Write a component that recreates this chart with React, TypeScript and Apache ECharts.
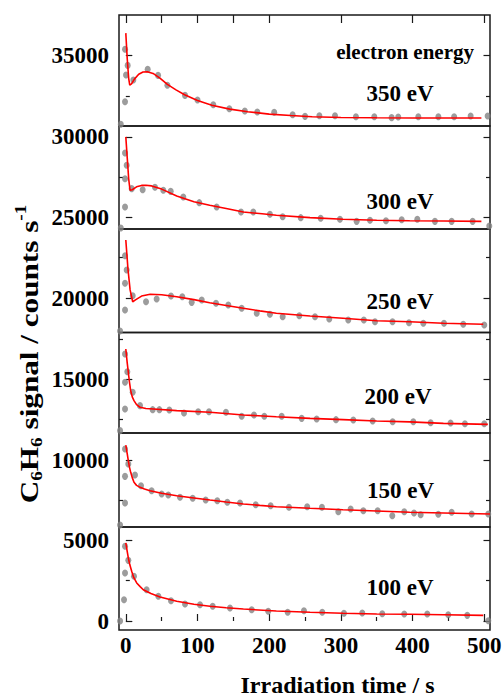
import React, { useEffect, useRef } from 'react';
import * as echarts from 'echarts';

const FONT = 'Liberation Serif';

// ---------------- data ----------------
const energyLabels = ['350 eV', '300 eV', '250 eV', '200 eV', '150 eV', '100 eV'];

const xMajorTicks = [0, 100, 200, 300, 400, 500];
const xMinorTicks = [50, 150, 250, 350, 450];
const xTopTicks = [0, 50, 100, 150, 200, 300, 400, 500];

const points350: number[][] = [
  [-7, 30750], [-1.1, 32150], [-1.1, 35400], [2.6, 34400], [0.3, 33800], [10.5, 33490], [30.5, 34160],
  [45, 33780], [58, 33170], [82.6, 32540], [100, 32250], [122, 31960], [144.4, 31715], [166, 31570],
  [183.4, 31510], [207, 31490], [232.7, 31340], [250, 31240], [270, 31280], [291.8, 31280], [321, 31220],
  [346.6, 31220], [370.8, 31160], [380, 31200], [408, 31220], [436, 31220], [458, 31220], [481, 31260],
  [504.7, 31260],
];
const fit350: number[][] = [
  [0, 36400], [2, 34800], [4, 33600], [5.5, 33180], [8, 33250], [12, 33550], [18, 33850], [24, 33990],
  [30, 34010], [38, 33900], [48, 33600], [58, 33220], [70, 32880], [82, 32580], [100, 32220], [120, 31930],
  [145, 31690], [170, 31530], [200, 31380], [230, 31290], [260, 31220], [300, 31170], [350, 31150],
  [400, 31140], [450, 31140], [496, 31140],
];

const points300: number[][] = [
  [-7, 24350], [-1.1, 25650], [-1.1, 29000], [1.2, 28240], [-1.1, 27400], [8.2, 26790], [23.5, 26720],
  [40.7, 26870], [52.3, 26690], [62.6, 26620], [80.2, 26270], [102.5, 25920], [126.7, 25650],
  [160.7, 25340], [177.8, 25340], [201, 25200], [218.8, 25050], [244, 24990], [271.8, 24950],
  [298.7, 24890], [322, 24760], [340.6, 24830], [362.9, 24800], [384.8, 24860], [406.6, 24890],
  [431.2, 24760], [454.5, 24760], [483.8, 24760], [507, 24470],
];
const fit300: number[][] = [
  [0, 30000], [2, 28700], [4, 27400], [5.9, 26690], [9, 26720], [15, 26900], [22, 26990], [28, 27000],
  [36, 26960], [50, 26760], [71, 26330], [95, 25980], [117, 25760], [140, 25560], [164, 25340],
  [190, 25230], [210, 25140], [257, 24990], [303, 24890], [350, 24830], [396, 24800], [443, 24780],
  [496, 24760],
];

const points250: number[][] = [
  [-8, 17950], [-1.1, 19260], [-1.1, 22620], [1.2, 21740], [-1.1, 20910], [9.6, 20140], [28.2, 19770],
  [43, 19940], [63, 20120], [78.8, 20080], [91.9, 19730], [105.9, 19880], [125.8, 19670], [143, 19570],
  [161.6, 19360], [182.6, 19050], [201, 18990], [218.8, 18840], [242, 18900], [263.9, 18840],
  [283.8, 18700], [310.3, 18640], [332, 18640], [347.6, 18530], [372, 18530], [395, 18470], [415, 18430],
  [443.8, 18430], [470.7, 18370], [500, 18330],
];
const fit250: number[][] = [
  [0, 23600], [3, 21800], [6, 20500], [9.6, 19770], [14, 19900], [22, 20120], [34, 20230], [50, 20200],
  [71, 20080], [95, 19900], [117, 19710], [140, 19540], [164, 19360], [187, 19200], [210, 19050],
  [257, 18880], [303, 18740], [350, 18590], [396, 18530], [443, 18430], [498.6, 18370],
];

const points200: number[][] = [
  [-8, 11810], [-1.1, 13150], [-1.1, 16560], [2.1, 15460], [-1.1, 14810], [9.6, 14190], [19.8, 13360],
  [37.5, 13110], [46.8, 13110], [60.7, 13090], [81.2, 12900], [101, 12980], [116, 12980], [139.7, 12950],
  [161.6, 12700], [178.8, 12780], [193.2, 12700], [217.4, 12700], [245.3, 12570], [266.2, 12530],
  [293.2, 12490], [317.3, 12470], [344.3, 12410], [372.2, 12360], [401, 12360], [425.2, 12300],
  [453, 12280], [473, 12240], [500, 12240],
];
const fit200: number[][] = [
  [0, 16870], [2, 16000], [3.5, 15430], [5, 14850], [6.8, 14290], [9, 13900], [11.4, 13670], [15, 13420],
  [19.8, 13260], [28, 13180], [38.4, 13150], [71, 13050], [117.4, 12950], [164, 12780], [210, 12670],
  [257, 12570], [303, 12490], [350, 12410], [396, 12350], [443, 12260], [505, 12200],
];

const points150: number[][] = [
  [-8, 5990], [-1.1, 7360], [-1.1, 10710], [3.5, 9780], [-1.1, 9010], [12.8, 9090], [21.2, 8430],
  [36, 8120], [50, 7920], [59.3, 7850], [75.6, 7710], [93.3, 7650], [111.4, 7540], [127.6, 7500],
  [141.6, 7400], [159.3, 7360], [181.2, 7250], [202, 7190], [227.6, 7090], [253, 7130], [273.6, 7090],
  [296.4, 6820], [313.6, 6990], [331.3, 6880], [351.3, 6880], [371.7, 6570], [388.4, 6820], [402, 6740],
  [411.3, 6630], [435.9, 6660], [454.5, 6780], [482.4, 6680], [505.6, 6680],
];
const fit150: number[][] = [
  [0, 10950], [2, 10400], [3.5, 9980], [5, 9600], [6.8, 9260], [9, 8930], [11.4, 8640], [15, 8450],
  [19.8, 8330], [26, 8220], [33.8, 8120], [50, 7960], [71, 7810], [95, 7670], [117.4, 7540], [140, 7420],
  [164, 7300], [187, 7210], [210, 7130], [257, 7030], [303, 6940], [350, 6860], [396, 6780], [443, 6740],
  [508, 6680],
];

const points100: number[][] = [
  [-8, 0], [-2.5, 1320], [-1.1, 2980], [-1.1, 4630], [3.5, 3760], [11.4, 2770], [29, 1940], [45.4, 1530],
  [63, 1260], [82.6, 1050], [103.5, 1010], [121.2, 910], [145.3, 810], [175.6, 700], [198.7, 600],
  [225.8, 540], [248.5, 640], [274, 540], [304.3, 480], [329.8, 500], [357.7, 450], [388.4, 430],
  [420.5, 430], [449.8, 390], [476.3, 350], [505.6, 20],
];
const fit100: number[][] = [
  [0, 4840], [2, 4300], [3.5, 3910], [5.5, 3500], [8.2, 3080], [11, 2700], [15.2, 2360], [20, 2130],
  [24.4, 1940], [35, 1700], [47.7, 1490], [71, 1220], [95, 1040], [117.4, 910], [140, 820], [164, 740],
  [210, 620], [257, 540], [303, 480], [350, 430], [396, 415], [443, 390], [498.6, 350],
];

const yRanges: number[][] = [
  [30642, 37524], [24287, 30673], [17861, 24278], [11663, 17894], [5870, 11698], [-558, 5828],
];
const seriesPoints = [points350, points300, points250, points200, points150, points100];
const seriesFits = [fit350, fit300, fit250, fit200, fit150, fit100];

// ---------------- layout ----------------
const GRID_LEFT = 119;
const GRID_WIDTH = 371;
const panelTops = [15, 126, 229, 332.5, 433, 527];
const panelHeights = [111, 103, 103.5, 100.5, 94, 103];
const labelPos = [[400, 93], [400, 201.5], [400, 301], [398, 396], [400.5, 490], [400, 587]];

const AXIS_COLOR = '#1a1a1a';

function ticksIn(min: number, max: number, start: number, step: number) {
  const out: number[] = [];
  for (let v = start; v <= max; v += step) {
    if (v > min + 100 && v < max - 100) out.push(v);
  }
  return out;
}

const plain = (v: number) => String(Math.round(v));

export default function App() {
  const ref = useRef<HTMLDivElement>(null);

  useEffect(() => {
    if (!ref.current) return;
    const chart = echarts.init(ref.current, undefined, { renderer: 'svg' });

    const grid: any[] = [];
    const xAxis: any[] = [];
    const yAxis: any[] = [];
    const series: any[] = [];
    const tickLine = { color: AXIS_COLOR, width: 1.2 };
    const labelStyle = { fontFamily: FONT, fontWeight: 'bold', fontSize: 23, color: '#000', formatter: plain };

    for (let i = 0; i < 6; i++) {
      grid.push({
        left: GRID_LEFT, top: panelTops[i], width: GRID_WIDTH, height: panelHeights[i],
        show: true, borderColor: AXIS_COLOR, borderWidth: 1.5, backgroundColor: 'transparent',
        containLabel: false, outerBoundsMode: 'none',
      });
      const isBottom = i === 5;
      xAxis.push({
        type: 'value', gridIndex: i, min: -9.5, max: 508, position: 'bottom',
        axisLine: { show: false }, splitLine: { show: false },
        axisTick: { show: isBottom, inside: true, length: 7, customValues: xMajorTicks, lineStyle: tickLine },
        axisLabel: { show: isBottom, customValues: xMajorTicks, margin: 4, ...labelStyle },
      });
      const [mn, mx] = yRanges[i];
      const majors = ticksIn(mn, mx, -5000, 5000);
      const minors = ticksIn(mn, mx, -2500, 5000);
      const base = { type: 'value', gridIndex: i, min: mn, max: mx, axisLine: { show: false }, splitLine: { show: false } };
      yAxis.push({
        ...base, position: 'left',
        axisTick: { show: true, inside: true, length: 6.5, customValues: majors, lineStyle: tickLine },
        axisLabel: { show: true, customValues: majors, margin: 10, ...labelStyle },
      });
      yAxis.push({
        ...base, position: 'left',
        axisTick: { show: true, inside: true, length: 4, customValues: minors, lineStyle: tickLine },
        axisLabel: { show: false },
      });
      yAxis.push({
        ...base, position: 'right',
        axisTick: { show: true, inside: true, length: 6.5, customValues: majors, lineStyle: tickLine },
        axisLabel: { show: false },
      });
      yAxis.push({
        ...base, position: 'right',
        axisTick: { show: true, inside: true, length: 4, customValues: minors, lineStyle: tickLine },
        axisLabel: { show: false },
      });
      series.push({
        type: 'scatter', xAxisIndex: i, yAxisIndex: i * 4, data: seriesPoints[i],
        symbol: 'circle', symbolSize: [6, 7], itemStyle: { color: '#838383' }, z: 2,
      });
      series.push({
        type: 'line', xAxisIndex: i, yAxisIndex: i * 4, data: seriesFits[i],
        showSymbol: false, symbol: 'none', smooth: false,
        lineStyle: { color: '#ff0000', width: 1.6 }, z: 3,
      });
    }
    xAxis.push({
      type: 'value', gridIndex: 5, min: -9.5, max: 508, position: 'bottom',
      axisLine: { show: false }, splitLine: { show: false },
      axisTick: { show: true, inside: true, length: 4, customValues: xMinorTicks, lineStyle: tickLine },
      axisLabel: { show: false },
    });
    xAxis.push({
      type: 'value', gridIndex: 0, min: -9.5, max: 508, position: 'top',
      axisLine: { show: false }, splitLine: { show: false },
      axisTick: { show: true, inside: true, length: 8, customValues: xTopTicks, lineStyle: tickLine },
      axisLabel: { show: false },
    });

    const graphic: any[] = energyLabels.map((t, i) => ({
      type: 'text', x: labelPos[i][0], y: labelPos[i][1], z: 10,
      style: { text: t, fontFamily: FONT, fontWeight: 'bold', fontSize: 23, fill: '#000', align: 'center', verticalAlign: 'middle' },
    }));
    graphic.push({
      type: 'text', x: 474, y: 52, z: 10,
      style: { text: 'electron energy', fontFamily: FONT, fontWeight: 'bold', fontSize: 21, fill: '#000', align: 'right', verticalAlign: 'middle' },
    });
    graphic.push({
      type: 'text', x: 337.5, y: 685, z: 10,
      style: { text: 'Irradiation time / s', fontFamily: FONT, fontWeight: 'bold', fontSize: 24, fill: '#000', align: 'center', verticalAlign: 'middle' },
    });
    graphic.push({
      type: 'text', x: 29, y: 354, z: 10, rotation: Math.PI / 2, scaleX: 1.2,
      style: {
        text: '{m|C}{s|6}{m|H}{s|6}{m| signal / counts s}{p|-1}',
        align: 'center', verticalAlign: 'middle', fill: '#000',
        fontFamily: FONT, fontWeight: 'bold', fontSize: 26,
        rich: {
          m: { fontFamily: FONT, fontWeight: 'bold', fontSize: 26, lineHeight: 32, verticalAlign: 'middle', fill: '#000' },
          s: { fontFamily: FONT, fontWeight: 'bold', fontSize: 16, lineHeight: 16, verticalAlign: 'bottom', fill: '#000' },
          p: { fontFamily: FONT, fontWeight: 'bold', fontSize: 16, lineHeight: 16, verticalAlign: 'top', fill: '#000' },
        },
      },
    });

    chart.setOption({
      animation: false,
      backgroundColor: '#ffffff',
      grid, xAxis, yAxis, series, graphic,
    });
    return () => chart.dispose();
  }, []);

  return <div ref={ref} style={{ position: 'absolute', left: 0, top: 0, width: 502, height: 698 }} />;
}
